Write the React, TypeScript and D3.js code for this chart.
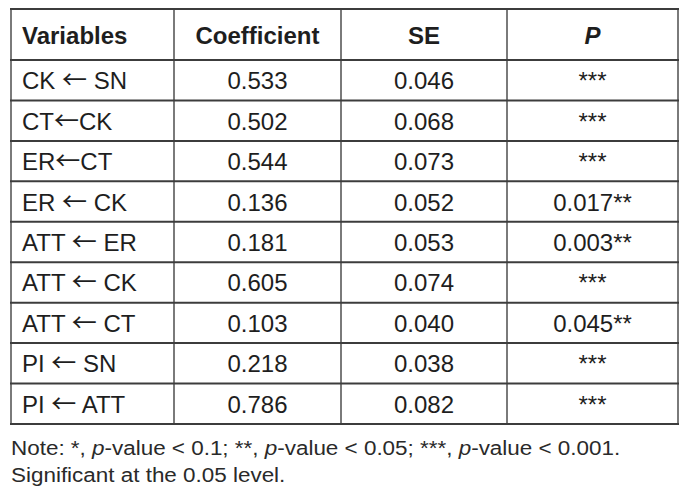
import React from "react";
import * as d3 from "d3";

const headers = ["Variables", "Coefficient", "SE", "P"];
const paths = ["CK ← SN", "CT←CK", "ER←CT", "ER ← CK", "ATT ← ER", "ATT ← CK", "ATT ← CT", "PI ← SN", "PI ← ATT"];
const coefficients = ["0.533", "0.502", "0.544", "0.136", "0.181", "0.605", "0.103", "0.218", "0.786"];
const standardErrors = ["0.046", "0.068", "0.073", "0.052", "0.053", "0.074", "0.040", "0.038", "0.082"];
const pValues = ["***", "***", "***", "0.017**", "0.003**", "***", "0.045**", "***", "***"];

const W = 699;
const H = 496;
const colEdges = [11, 174, 341, 507, 678];
const top = 9;
const headerBottom = 60;
const bottom = 424;

function PathLabel({ text }: { text: string }) {
  const parts = text.split("←");
  return (
    <>
      {parts[0]}
      <tspan fontFamily="'Noto Sans CJK SC', 'DejaVu Sans', sans-serif" fontSize={25}>←</tspan>
      {parts[1]}
    </>
  );
}

export default function App() {
  const y = d3
    .scaleBand<number>()
    .domain(d3.range(paths.length))
    .range([headerBottom, bottom]);
  const font = "'Liberation Sans', Arial, Helvetica, sans-serif";
  const textColor = "#1e1e1e";
  const rows = paths.map((p, i) => [p, coefficients[i], standardErrors[i], pValues[i]]);
  const hLines = [top, headerBottom, ...d3.range(1, paths.length).map((i) => y(i)!), bottom];
  const noteScale = 1.069;
  return (
    <svg
      width={W}
      height={H}
      style={{ position: "absolute", left: 0, top: 0, background: "#fff" }}
      fontFamily={font}
    >
      <rect x={0} y={0} width={W} height={H} fill="#fff" />
      {colEdges.map((x, i) => (
        <line key={"v" + i} x1={x} x2={x} y1={top} y2={bottom} stroke="#7a7a7a" strokeWidth={2} />
      ))}
      {hLines.map((yy, i) => (
        <line key={"h" + i} x1={colEdges[0] - 1} x2={colEdges[4] + 1} y1={yy} y2={yy} stroke="#3c3c3c" strokeWidth={2} />
      ))}
      {headers.map((h, c) => {
        const x = c === 0 ? colEdges[0] + 11 : (colEdges[c] + colEdges[c + 1]) / 2;
        return (
          <text
            key={"hd" + c}
            x={x}
            y={(top + headerBottom) / 2 + 9}
            textAnchor={c === 0 ? "start" : "middle"}
            fontSize={24}
            fontWeight="bold"
            fontStyle={c === 3 ? "italic" : "normal"}
            fill={textColor}
          >
            {h}
          </text>
        );
      })}
      {rows.map((r, i) =>
        r.map((v, c) => {
          const x = c === 0 ? colEdges[0] + 11 : (colEdges[c] + colEdges[c + 1]) / 2;
          return (
            <text
              key={`c${i}-${c}`}
              x={x}
              y={y(i)! + y.bandwidth() / 2 + 9}
              textAnchor={c === 0 ? "start" : "middle"}
              fontSize={24}
              fill={textColor}
            >
              {c === 0 ? <PathLabel text={v} /> : v}
            </text>
          );
        })
      )}
      <g transform={`translate(11,0) scale(${noteScale},1)`}>
        <text x={0} y={455} fontSize={21} fill="#2a2a2a">
          Note: *, <tspan fontStyle="italic">p</tspan>-value &lt; 0.1; **, <tspan fontStyle="italic">p</tspan>-value &lt; 0.05; ***,{" "}
          <tspan fontStyle="italic">p</tspan>-value &lt; 0.001.
        </text>
        <text x={0} y={482} fontSize={21} fill="#2a2a2a">
          Significant at the 0.05 level.
        </text>
      </g>
    </svg>
  );
}
